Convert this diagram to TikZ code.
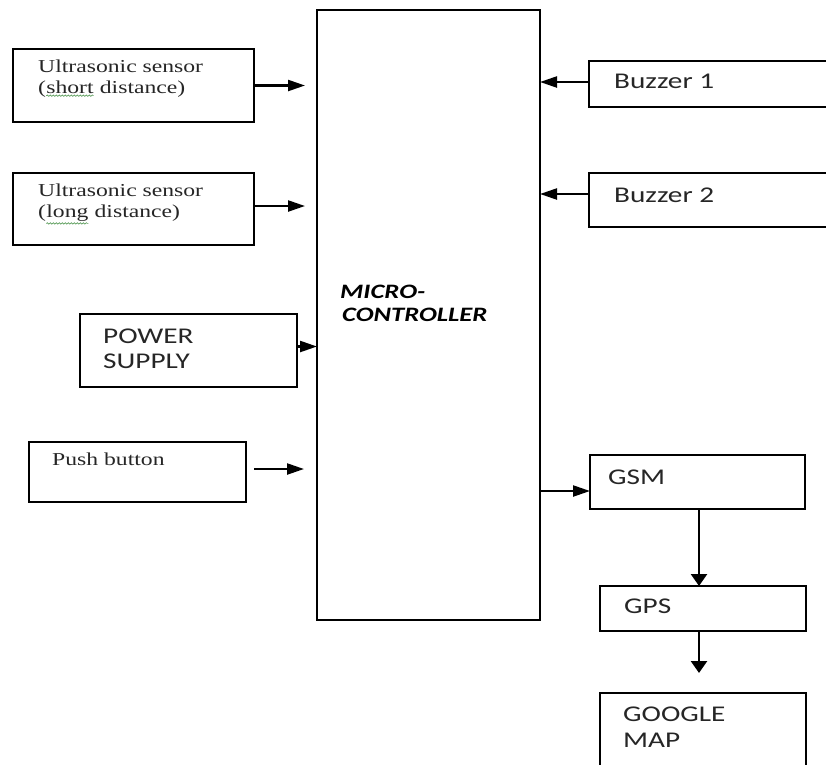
\documentclass[tikz,border=0pt]{standalone}
\usepackage{fontspec}
\usetikzlibrary{arrows.meta,decorations.pathmorphing}
\newfontfamily\calfont{Carlito}[FakeStretch=1.3]
\newfontfamily\serfont{Liberation Serif}[FakeStretch=1.3]
\newcommand\squig[1]{\tikz[baseline=(w.base)]{\node[inner sep=0pt,outer sep=0pt](w){#1};\draw[decorate,decoration={snake,amplitude=0.7pt,segment length=3pt},green!40!black!70,line width=0.6pt]([yshift=-2.5pt]w.south west)--([yshift=-2.5pt]w.south east);}}
\tikzset{
  blk/.style={draw=black,line width=2.5pt,inner sep=0pt,outer sep=0pt,anchor=north west},
  harr/.style={line width=2.3pt,-{Triangle[length=17pt,width=11pt]}},
  varr/.style={line width=2.5pt,-{Triangle[length=12pt,width=16pt]}},
  sertxt/.style={inner sep=0pt,anchor=base west,text=black!85,font=\serfont\fontsize{18.2}{21}\selectfont},
  caltxt/.style={inner sep=0pt,anchor=base west,text=black!85,font=\calfont\fontsize{22.5}{25}\selectfont},
  mctxt/.style={inner sep=0pt,anchor=base west,text=black,font=\calfont\bfseries\itshape\fontsize{20.5}{23}\selectfont},
}
\begin{document}
\begin{tikzpicture}[x=1pt,y=-1pt]
\useasboundingbox (0,0) rectangle (826,764);
\fill[white] (0,0) rectangle (826,764);
\clip (0,0) rectangle (826,764);
% microcontroller
\node[blk,minimum width=223pt,minimum height=610pt] (mc) at (317,10) {};
\node[mctxt] (mc1) at (340,298) {MICRO-};
\node[mctxt] (mc2) at (342,321) {CONTROLLER};
% left blocks
\node[blk,minimum width=241pt,minimum height=73pt] (us1) at (13,49) {};
\node[sertxt] (us1a) at (38,72) {Ultrasonic sensor};
\node[sertxt] (us1b) at (38,93) {(\squig{short} distance)};
\node[blk,minimum width=241pt,minimum height=72pt] (us2) at (13,173) {};
\node[sertxt] (us2a) at (38,196) {Ultrasonic sensor};
\node[sertxt] (us2b) at (38,217) {(\squig{long} distance)};
\node[blk,minimum width=217pt,minimum height=73pt] (pw) at (80,314) {};
\node[caltxt] (pwa) at (103,343) {POWER};
\node[caltxt] (pwb) at (103,368) {SUPPLY};
\node[blk,minimum width=217pt,minimum height=60pt] (pb) at (29,442) {};
\node[sertxt] (pba) at (52,465) {Push button};
% right blocks
\node[blk,minimum width=250pt,minimum height=46pt] (bz1) at (589,61) {};
\node[caltxt] (bz1t) at (614,88) {Buzzer 1};
\node[blk,minimum width=250pt,minimum height=54pt] (bz2) at (589,173) {};
\node[caltxt] (bz2t) at (614,202) {Buzzer 2};
\node[blk,minimum width=215pt,minimum height=54pt] (gsm) at (590,455) {};
\node[caltxt] (gsmt) at (608,484) {GSM};
\node[blk,minimum width=206pt,minimum height=45pt] (gps) at (600,586) {};
\node[caltxt] (gpst) at (624,613) {GPS};
\node[blk,minimum width=206pt,minimum height=90pt] (gm) at (600,693) {};
\node[caltxt] (gma) at (623,721) {GOOGLE};
\node[caltxt] (gmb) at (623,747) {MAP};
% connectors
\draw[harr] (us1.east) -- ([xshift=-12pt]us1.east -| mc.west);
\draw[harr] ([yshift=3pt]us2.west -| us2.east) -- ([xshift=-12pt,yshift=3pt]us2.west -| mc.west);
\draw[harr] ([yshift=4pt]pw.east) -- ([yshift=4pt]pw.east -| mc.west);
\draw[harr] ([xshift=8pt,yshift=3pt]pb.east) -- ([xshift=-13pt,yshift=3pt]pb.east -| mc.west);
\draw[harr] ([yshift=2pt]bz1.west) -- ([yshift=2pt]bz1.west -| mc.east);
\draw[harr] ([yshift=6pt]bz2.west) -- ([yshift=6pt]bz2.west -| mc.east);
\draw[harr] ([yshift=-9pt]gsm.west -| mc.east) -- ([yshift=-9pt]gsm.west);
\coordinate (gx) at (699,0);
\draw[varr] (gx |- gsm.south) -- (gx |- gps.north);
\draw[varr] (gx |- gps.south) -- ([yshift=20pt]gx |- gm.north);
\end{tikzpicture}
\end{document}
